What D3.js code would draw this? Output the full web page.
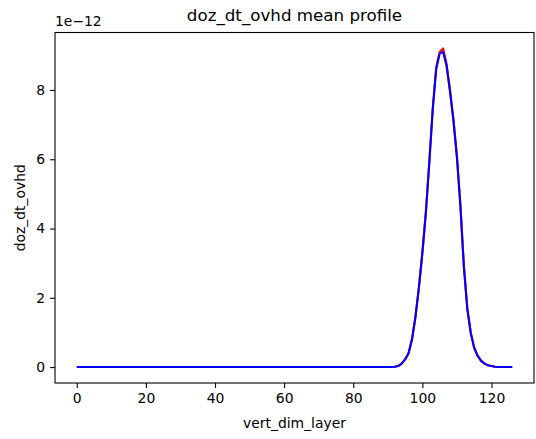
<!DOCTYPE html>
<html lang="en">
<head>
    <meta charset="utf-8" />
    <title>doz_dt_ovhd mean profile</title>
    <script src="https://d3js.org/d3.v7.min.js"></script>
    <style>
        body {
            margin: 0;
            padding: 0;
            background: white;
        }
        text {
            font-family: "DejaVu Sans", sans-serif;
        }
    </style>
</head>
<body>
<svg id="chart"></svg>
<script>
    var w = 536;
    var h = 439;

    // vertical layer index
    var layers = [
        0, 1, 2, 3, 4, 5, 6, 7, 8, 9, 10, 11, 12, 13, 14, 15, 16, 17, 18, 19,
        20, 21, 22, 23, 24, 25, 26, 27, 28, 29, 30, 31, 32, 33, 34, 35, 36, 37, 38, 39,
        40, 41, 42, 43, 44, 45, 46, 47, 48, 49, 50, 51, 52, 53, 54, 55, 56, 57, 58, 59,
        60, 61, 62, 63, 64, 65, 66, 67, 68, 69, 70, 71, 72, 73, 74, 75, 76, 77, 78, 79,
        80, 81, 82, 83, 84, 85, 86, 87, 88, 89, 90, 91, 92, 93, 94, 95, 96, 97, 98, 99,
        100, 101, 102, 103, 104, 105, 106, 107, 108, 109, 110, 111, 112, 113, 114, 115, 116, 117, 118, 119,
        120, 121, 122, 123, 124, 125, 126
    ];

    // mean profile values, in units of 1e-12
    var redValues = [
        0, 0, 0, 0, 0, 0, 0, 0, 0, 0, 0, 0, 0, 0, 0, 0, 0, 0, 0, 0,
        0, 0, 0, 0, 0, 0, 0, 0, 0, 0, 0, 0, 0, 0, 0, 0, 0, 0, 0, 0,
        0, 0, 0, 0, 0, 0, 0, 0, 0, 0, 0, 0, 0, 0, 0, 0, 0, 0, 0, 0,
        0, 0, 0, 0, 0, 0, 0, 0, 0, 0, 0, 0, 0, 0, 0, 0, 0, 0, 0, 0,
        0, 0, 0, 0, 0, 0, 0, 0, 0, 0, 0, 0, 0.01, 0.03, 0.1, 0.22, 0.4, 0.8, 1.45, 2.3,
        3.3, 4.45, 5.9, 7.45, 8.65, 9.1, 9.2, 8.75, 8.0, 7.15, 6.1, 4.7, 2.95, 1.7, 1.0, 0.56, 0.33, 0.18, 0.1, 0.05,
        0.03, 0.01, 0, 0, 0, 0, 0
    ];
    var blueValues = [
        0, 0, 0, 0, 0, 0, 0, 0, 0, 0, 0, 0, 0, 0, 0, 0, 0, 0, 0, 0,
        0, 0, 0, 0, 0, 0, 0, 0, 0, 0, 0, 0, 0, 0, 0, 0, 0, 0, 0, 0,
        0, 0, 0, 0, 0, 0, 0, 0, 0, 0, 0, 0, 0, 0, 0, 0, 0, 0, 0, 0,
        0, 0, 0, 0, 0, 0, 0, 0, 0, 0, 0, 0, 0, 0, 0, 0, 0, 0, 0, 0,
        0, 0, 0, 0, 0, 0, 0, 0, 0, 0, 0, 0, 0.01, 0.03, 0.1, 0.22, 0.4, 0.8, 1.45, 2.3,
        3.3, 4.45, 5.9, 7.45, 8.6, 9.05, 9.1, 8.7, 7.95, 7.1, 6.05, 4.65, 2.9, 1.68, 0.98, 0.55, 0.32, 0.18, 0.1, 0.05,
        0.03, 0.01, 0, 0, 0, 0, 0
    ];

    var xTicks = [0, 20, 40, 60, 80, 100, 120];
    var yTicks = [0, 2, 4, 6, 8];

    // axes box
    var boxLeft = 55, boxRight = 534, boxTop = 32.5, boxBottom = 383;

    var svg = d3.select("#chart")
                .attr("width", w)
                .attr("height", h);

    // matplotlib style 5% margins
    var xMin = d3.min(layers), xMax = d3.max(layers);
    var xPad = (xMax - xMin) * 0.05;
    var xScale = d3.scaleLinear()
                .domain([xMin - xPad, xMax + xPad])
                .range([boxLeft, boxRight]);

    var yMin = d3.min(redValues.concat(blueValues));
    var yMax = d3.max(redValues.concat(blueValues));
    var yPad = (yMax - yMin) * 0.05;
    var yScale = d3.scaleLinear()
                .domain([yMin - yPad, yMax + yPad])
                .range([boxBottom, boxTop]);

    var line = function(values) {
        return d3.line()
            .x(function(d, i) { return xScale(layers[i]); })
            .y(function(d) { return yScale(d); })(values);
    };

    svg.append("path")
        .attr("d", line(redValues))
        .attr("fill", "none")
        .attr("stroke", "#ff0000")
        .attr("stroke-width", 2.1)
        .attr("stroke-linejoin", "round");

    svg.append("path")
        .attr("d", line(blueValues))
        .attr("fill", "none")
        .attr("stroke", "#0000ff")
        .attr("stroke-width", 2.1)
        .attr("stroke-linejoin", "round");

    // x axis
    var xAxis = svg.append("g")
        .attr("transform", "translate(0," + boxBottom + ")")
        .call(d3.axisBottom(xScale).tickValues(xTicks).tickSize(4.9).tickPadding(4.9)
            .tickFormat(function(d) { return d; }));
    xAxis.select(".domain").remove();
    xAxis.selectAll("line").attr("stroke", "#000").attr("stroke-width", 1.1);
    xAxis.selectAll("text").attr("font-size", "13.9px").attr("fill", "#000")
        .attr("font-family", "DejaVu Sans, sans-serif");

    // y axis
    var yAxis = svg.append("g")
        .attr("transform", "translate(" + boxLeft + ",0)")
        .call(d3.axisLeft(yScale).tickValues(yTicks).tickSize(4.9).tickPadding(4.9)
            .tickFormat(function(d) { return d; }));
    yAxis.select(".domain").remove();
    yAxis.selectAll("line").attr("stroke", "#000").attr("stroke-width", 1.1);
    yAxis.selectAll("text").attr("font-size", "13.9px").attr("fill", "#000")
        .attr("font-family", "DejaVu Sans, sans-serif");

    // frame
    svg.append("rect")
        .attr("x", boxLeft)
        .attr("y", boxTop)
        .attr("width", boxRight - boxLeft)
        .attr("height", boxBottom - boxTop)
        .attr("fill", "none")
        .attr("stroke", "#000")
        .attr("stroke-width", 1.1);

    // title
    svg.append("text")
        .attr("x", (boxLeft + boxRight) / 2)
        .attr("y", 21)
        .attr("text-anchor", "middle")
        .attr("font-size", "16.7px")
        .attr("fill", "#000")
        .text("doz_dt_ovhd mean profile");

    // offset text
    svg.append("text")
        .attr("x", boxLeft)
        .attr("y", 26)
        .attr("font-size", "13.9px")
        .attr("fill", "#000")
        .text("1e\u221212");

    // axis labels
    svg.append("text")
        .attr("x", (boxLeft + boxRight) / 2)
        .attr("y", 428)
        .attr("text-anchor", "middle")
        .attr("font-size", "13.9px")
        .attr("fill", "#000")
        .text("vert_dim_layer");

    svg.append("text")
        .attr("transform", "translate(25," + (boxTop + boxBottom) / 2 + ") rotate(-90)")
        .attr("text-anchor", "middle")
        .attr("font-size", "13.9px")
        .attr("fill", "#000")
        .text("doz_dt_ovhd");
</script>
</body>
</html>
